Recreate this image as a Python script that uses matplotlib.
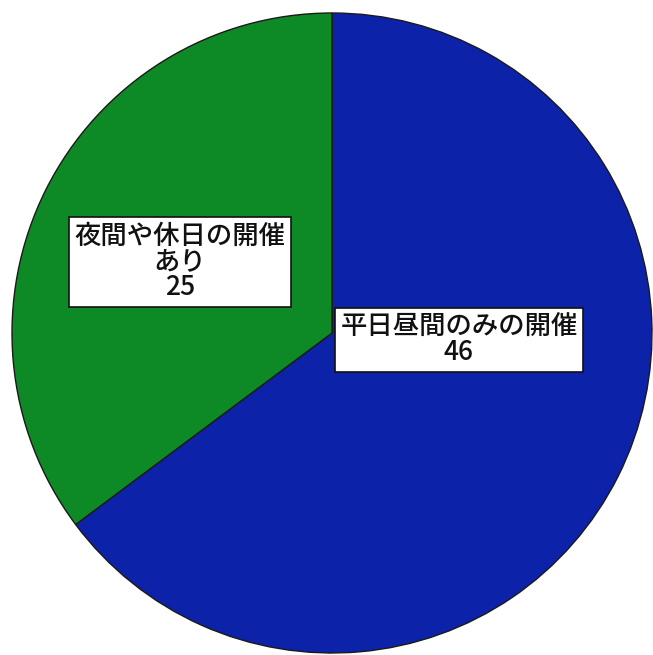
import matplotlib
matplotlib.use("Agg")
import matplotlib.pyplot as plt

# Meeting schedule breakdown
categories = ["平日昼間のみの開催", "夜間や休日の開催\nあり"]
counts = [46, 25]
colors = ["#0C22A8", "#0D8A26"]

W, H = 653, 655
fig = plt.figure(figsize=(W / 100, H / 100), dpi=100)
ax = fig.add_axes([0, 0, 1, 1])

cx, cy, r = 332, H - 333, 320
ax.pie(
    counts,
    colors=colors,
    startangle=90,
    counterclock=False,
    center=(cx, cy),
    radius=r,
    wedgeprops=dict(edgecolor="#1a1a1a", linewidth=1.0),
    frame=True,
)
ax.set_xlim(0, W)
ax.set_ylim(0, H)
ax.set_aspect("equal")
ax.axis("off")

label_pos = [(459, H - 340), (180, H - 262)]
font = ["Noto Sans CJK JP", "DejaVu Sans"]
for cat, n, (x, y) in zip(categories, counts, label_pos):
    ax.text(
        x, y, f"{cat}\n{n}",
        ha="center", va="center", fontsize=19, family=font,
        fontweight="medium", linespacing=0.95, color="#111111",
        bbox=dict(boxstyle="square,pad=0.2", facecolor="white",
                  edgecolor="#111111", linewidth=1.2),
    )

fig.savefig("out.png", dpi=100)
